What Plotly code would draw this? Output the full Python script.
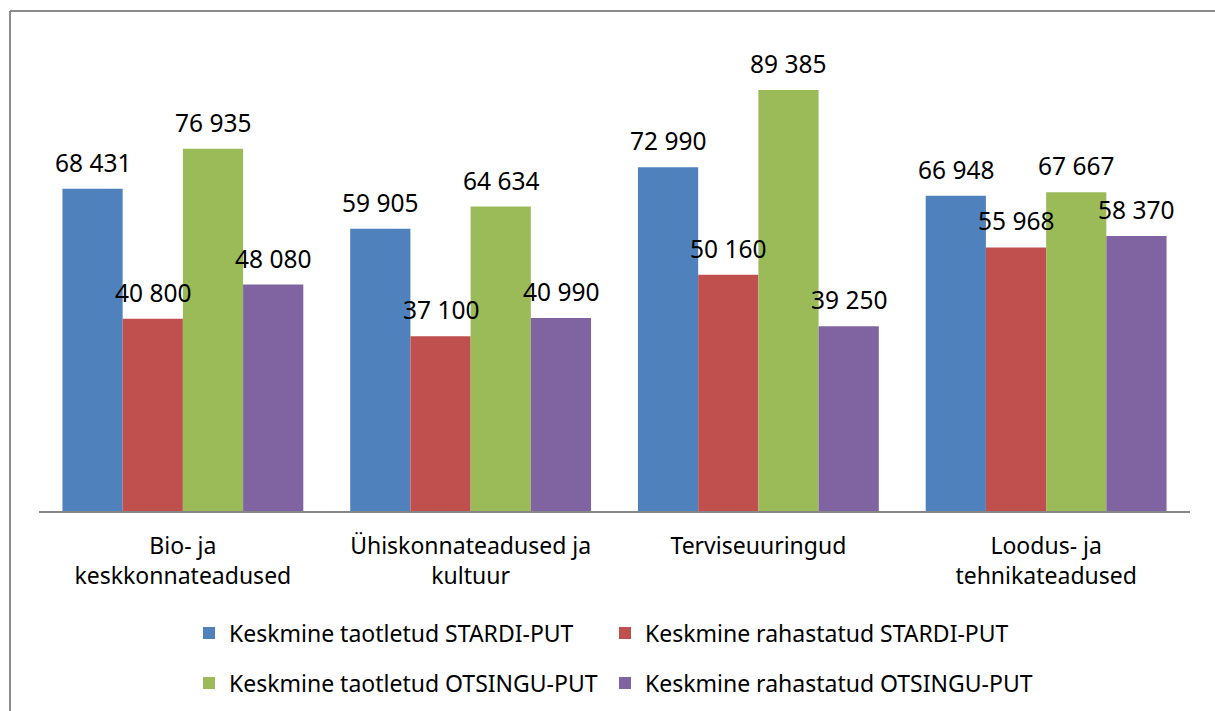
import plotly.graph_objects as go

categories = ["Bio- ja<br>keskkonnateadused", "Ühiskonnateadused ja<br>kultuur",
              "Terviseuuringud", "Loodus- ja<br>tehnikateadused"]
series_names = ["Keskmine taotletud STARDI-PUT", "Keskmine rahastatud STARDI-PUT",
                "Keskmine taotletud OTSINGU-PUT", "Keskmine rahastatud OTSINGU-PUT"]
taotletud_stardi = [68431, 59905, 72990, 66948]
rahastatud_stardi = [40800, 37100, 50160, 55968]
taotletud_otsingu = [76935, 64634, 89385, 67667]
rahastatud_otsingu = [48080, 40990, 39250, 58370]
series_values = [taotletud_stardi, rahastatud_stardi, taotletud_otsingu, rahastatud_otsingu]
colors = ["#4F81BD", "#C0504D", "#9BBB59", "#8064A2"]
legend_ids = ["legend", "legend2", "legend3", "legend4"]

W, H = 1215, 711
ML, MR, MT, MB = 39, 25, 40, 200
PW, PH = W - ML - MR, H - MT - MB
FONT = "Noto Sans, Open Sans, sans-serif"
FS = 23
FS_VAL = 24.5

fig = go.Figure()
for name, vals, col, lg in zip(series_names, series_values, colors, legend_ids):
    fig.add_trace(go.Bar(x=categories, y=vals, name=name, marker_color=col,
                         marker_line_width=0, legend=lg))

bargap = 0.163
bar_px = PW / len(categories) * (1 - bargap) / len(series_names)
n = len(series_names)
for i, vals in enumerate(series_values):
    off = (i - (n - 1) / 2) * bar_px
    for c, v in zip(categories, vals):
        fig.add_annotation(x=c, y=v, xref="x", yref="y", text=f"{v:,}".replace(",", " "),
                           showarrow=False, xshift=off, yshift=8, yanchor="bottom",
                           font=dict(family=FONT, size=FS_VAL, color="#000000"))

# chart border (left and top edges visible)
bx0 = (10 - ML) / PW
by1 = 1 + (MT - 11) / PH
fig.add_shape(type="line", xref="paper", yref="paper", x0=bx0, x1=bx0,
              y0=-(H + 5 - MT - PH) / PH, y1=by1, line=dict(color="#8C8C8C", width=2))
fig.add_shape(type="line", xref="paper", yref="paper", x0=bx0, x1=(W + 5 - ML) / PW,
              y0=by1, y1=by1, line=dict(color="#8C8C8C", width=2))

def legend_at(px, py):
    return dict(orientation="h", x=(px - ML) / PW, xanchor="left", y=(MT + PH - py) / PH,
                yanchor="middle", font=dict(size=FS), bgcolor="rgba(0,0,0,0)")

fig.update_layout(
    width=W, height=H, autosize=False,
    margin=dict(l=ML, r=MR, t=MT, b=MB, autoexpand=False),
    paper_bgcolor="white", plot_bgcolor="white",
    barmode="group", bargap=bargap, bargroupgap=0,
    font=dict(family=FONT, size=FS, color="#000000"),
    xaxis=dict(showline=True, linecolor="#868686", linewidth=2, ticks="", showgrid=False,
               tickfont=dict(size=FS), ticklabelstandoff=13, automargin=False),
    yaxis=dict(range=[0, 100000], visible=False, showgrid=False, zeroline=False),
    legend=legend_at(189, 633),
    legend2=legend_at(605, 633),
    legend3=legend_at(189, 683),
    legend4=legend_at(605, 683),
    showlegend=True,
)

fig.write_html("out.html", config={"displayModeBar": False},
               post_script="document.body.style.margin='0';document.body.style.overflow='hidden';")
